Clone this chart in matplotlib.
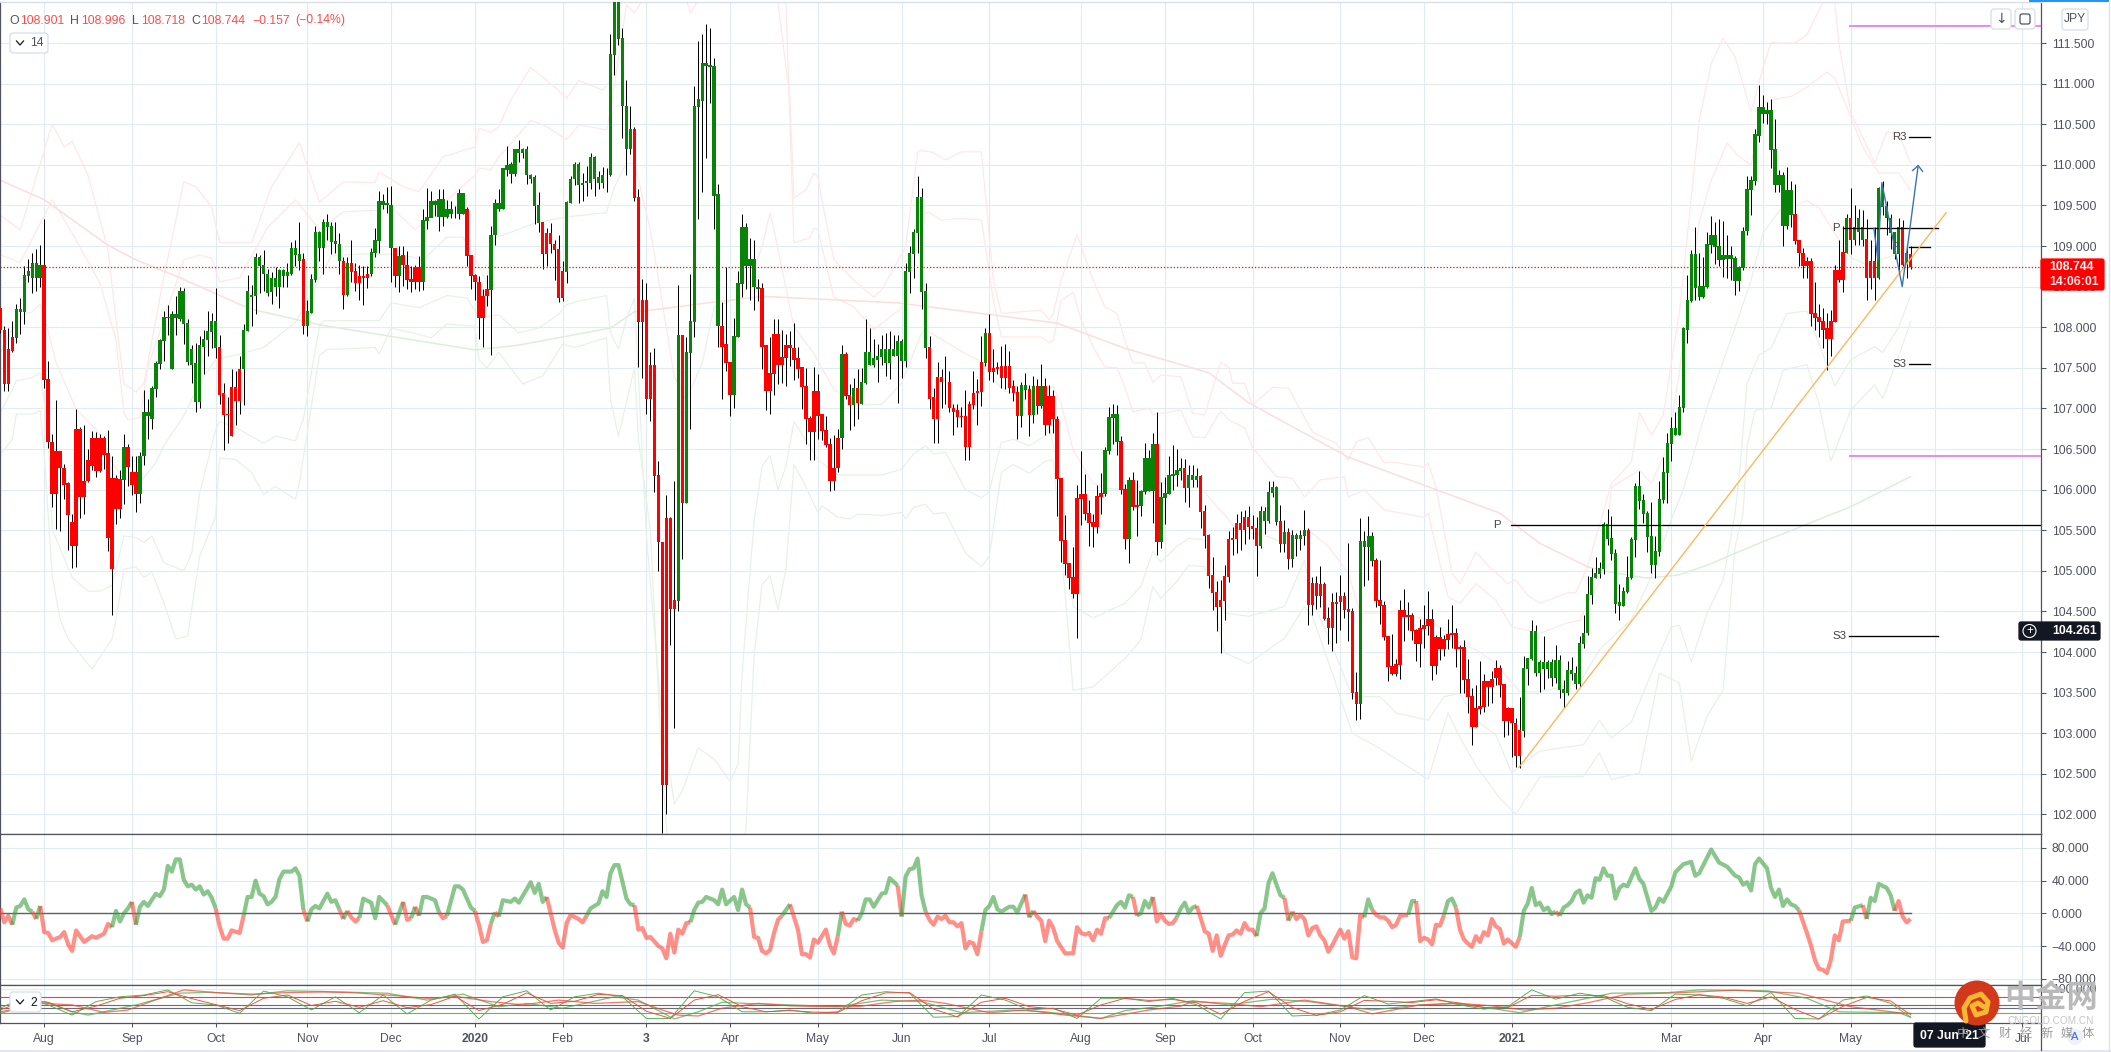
import matplotlib
matplotlib.use("Agg")
import matplotlib.pyplot as plt
from matplotlib.patches import Circle, FancyBboxPatch, Rectangle

plt.rcParams['font.family'] = ['Liberation Sans', 'DejaVu Sans']

# daily candles, index 0 = Jul 2019. bar colour comes from an indicator, so top/bottom are kept apart from colour
body_top = [
108.24,107.96,107.73,107.88,108.23,108.23,108.64,108.69,108.79,108.79,
108.77,108.77,107.36,106.59,106.47,106.47,106.27,106.08,105.6,106.75,
106.75,106.11,106.37,106.64,106.64,106.63,106.63,106.45,106.14,106.14,
106.13,106.52,106.52,106.22,106.22,106.42,106.95,106.95,107.25,107.56,
107.84,108.12,108.12,108.16,108.16,108.45,108.45,108.05,107.73,107.56,
107.78,107.85,107.95,108.08,108.08,107.76,107.19,106.93,107.26,107.26,
107.49,107.96,108.44,108.4,108.87,108.87,108.77,108.66,108.61,108.61,
108.7,108.7,108.68,108.97,108.97,108.9,108.84,108.2,108.59,109.17,
109.17,109.29,109.29,109.25,109.06,109.03,108.82,108.79,108.79,108.69,
108.63,108.63,108.66,108.93,109.07,109.55,109.55,109.53,109.51,108.98,
108.88,108.89,108.77,108.59,108.74,108.74,109.32,109.36,109.56,109.56,
109.58,109.58,109.45,109.45,109.4,109.65,109.65,109.46,108.89,108.64,
108.56,108.38,108.47,109.14,109.53,109.53,109.96,110.0,110.01,110.19,
110.19,110.19,110.19,109.88,109.85,109.5,109.29,109.16,109.16,109.03,
108.96,108.69,109.54,109.83,110.01,110.01,109.78,109.8,110.1,110.1,
109.85,109.88,109.88,111.36,112.2,112.2,111.56,110.73,110.44,110.44,
109.6,108.34,108.34,107.54,107.54,106.18,105.36,105.65,105.65,104.64,
107.9,107.9,107.69,108.08,110.72,110.81,111.25,111.25,111.23,111.22,
109.64,108.02,107.79,107.57,107.89,108.54,109.23,109.23,108.84,108.84,
108.5,108.48,107.78,107.44,107.92,107.92,107.63,107.78,107.78,107.75,
107.62,107.51,107.27,106.88,107.21,107.21,106.93,106.73,106.56,106.27,
106.64,107.67,107.67,107.16,107.25,107.25,107.32,107.7,107.7,107.62,
107.64,107.73,107.73,107.73,107.73,107.83,107.83,108.69,108.91,109.17,
109.6,109.6,108.44,107.76,107.14,107.39,107.39,107.33,107.33,107.01,
106.98,106.91,106.91,107.05,107.19,107.22,107.57,107.93,107.93,107.5,
107.51,107.52,107.52,107.52,107.27,107.2,107.29,107.29,107.24,107.28,
107.28,107.28,107.28,107.15,107.15,106.87,106.14,105.38,105.1,104.93,
105.9,105.95,105.95,105.71,105.6,105.92,105.96,106.49,106.9,106.93,
106.93,106.6,106.01,106.12,106.12,105.81,105.98,106.39,106.39,106.56,
106.56,105.91,105.96,106.18,106.19,106.24,106.27,106.27,106.18,106.18,
106.17,106.17,105.74,105.44,104.95,104.74,104.64,104.94,105.39,105.41,
105.59,105.59,105.66,105.66,105.55,105.53,105.74,105.74,105.97,106.03,
106.03,105.61,105.48,105.48,105.44,105.44,105.44,105.5,105.5,104.85,
104.85,104.84,104.84,104.42,104.61,104.62,104.69,104.69,104.53,104.51,
103.51,105.37,105.37,105.43,105.43,105.13,104.64,104.58,104.2,103.83,
103.85,104.52,104.52,104.46,104.46,104.27,104.3,104.33,104.41,104.41,
104.19,104.19,104.16,104.22,104.23,104.23,104.06,104.06,103.67,103.46,
103.31,103.34,103.64,103.64,103.67,103.8,103.8,103.61,103.31,103.31,
103.13,103.04,103.8,103.93,104.26,104.26,103.88,103.88,103.88,103.88,
103.9,103.9,103.55,103.78,103.78,103.74,104.11,104.24,104.72,104.93,
104.97,105.04,105.58,105.58,105.41,105.22,104.61,104.75,104.93,105.39,
106.05,106.05,105.87,105.71,105.43,105.25,105.89,106.22,106.58,106.76,
106.76,107.02,107.99,108.33,108.9,108.9,108.51,108.51,109.02,109.14,
109.14,109.0,108.89,108.89,108.89,108.85,108.74,109.18,109.7,109.81,
110.38,110.71,110.71,110.68,110.68,110.19,109.87,109.87,109.69,109.69,
109.39,109.07,108.92,108.81,108.81,108.17,108.12,108.08,107.99,108.08,
108.71,108.71,108.93,109.35,109.35,109.23,109.34,109.24,109.09,108.82,
108.82,109.72,109.72,109.49,109.35,109.17,109.23,109.23,108.91,108.901,
]
body_bot = [
107.97,107.3,107.3,107.71,107.87,108.19,108.19,108.63,108.61,108.61,
108.61,107.35,106.59,105.95,105.95,106.27,106.06,105.69,105.31,105.31,
105.91,105.91,106.11,106.29,106.23,106.23,106.43,105.4,105.02,105.76,
105.76,106.12,106.28,106.06,105.95,105.95,106.41,106.91,106.87,107.24,
107.55,107.83,108.11,107.49,108.11,108.1,108.04,107.57,107.54,107.08,
107.08,107.76,107.84,107.94,107.75,107.17,106.92,106.92,106.66,107.09,
107.09,107.48,107.95,108.37,108.39,108.76,108.65,108.42,108.43,108.49,
108.49,108.63,108.63,108.66,108.89,108.82,108.02,108.02,108.18,108.58,
108.98,108.98,109.24,109.05,109.02,108.81,108.4,108.4,108.68,108.54,
108.54,108.61,108.61,108.65,108.92,109.06,109.51,109.5,108.98,108.63,
108.63,108.77,108.58,108.56,108.56,108.56,108.56,109.31,109.35,109.51,
109.36,109.36,109.36,109.39,109.39,109.39,109.4,108.88,108.63,108.56,
108.11,108.11,108.38,108.46,109.13,109.46,109.46,109.94,109.89,109.89,
110.15,110.15,109.87,109.83,109.49,109.28,108.9,108.9,109.02,108.95,
108.36,108.36,108.68,109.53,109.82,109.75,109.75,109.77,109.78,109.83,
109.78,109.78,109.87,109.87,111.35,111.55,110.72,110.2,110.2,109.59,
108.06,108.06,107.11,107.11,106.17,105.35,102.36,102.36,104.53,104.53,
104.63,105.84,105.84,107.68,108.07,110.71,110.79,111.22,111.21,109.62,
108.01,107.76,107.56,107.17,107.17,107.88,108.53,108.76,108.76,108.49,
108.47,107.76,107.21,107.21,107.43,107.54,107.54,107.62,107.74,107.6,
107.49,107.26,106.87,106.71,106.71,106.91,106.72,106.55,106.11,106.11,
106.27,106.63,107.15,107.04,107.04,107.07,107.06,107.31,107.54,107.54,
107.6,107.63,107.56,107.56,107.64,107.64,107.59,107.59,108.68,108.9,
109.16,108.43,107.75,107.12,106.87,106.87,107.32,107.32,107.0,106.96,
106.89,106.89,106.52,106.52,107.04,107.19,107.2,107.56,107.45,107.45,
107.49,107.38,107.38,107.25,107.19,106.91,106.91,107.23,106.92,106.92,
107.03,107.03,106.8,106.8,106.87,106.13,105.37,105.09,104.91,104.72,
104.72,105.89,105.7,105.59,105.54,105.54,105.91,105.95,106.48,106.88,
106.59,106.0,105.39,105.39,105.79,105.79,105.8,105.97,105.98,105.98,
105.36,105.36,105.9,105.95,106.17,106.18,106.23,106.02,106.02,106.12,
106.12,105.73,105.43,104.94,104.73,104.56,104.56,104.63,104.93,105.38,
105.39,105.5,105.5,105.54,105.52,105.31,105.31,105.61,105.61,105.96,
105.6,105.33,105.33,105.15,105.15,105.39,105.39,105.43,104.58,104.58,
104.69,104.69,104.41,104.3,104.3,104.59,104.61,104.52,104.49,103.5,
103.36,103.36,105.29,105.29,105.12,104.63,104.57,104.19,103.82,103.73,
103.73,103.84,104.43,104.43,104.26,104.1,104.1,104.28,104.32,103.83,
103.83,104.04,104.04,104.15,104.21,104.04,104.04,103.66,103.45,103.08,
103.08,103.3,103.32,103.57,103.57,103.68,103.6,103.15,103.15,103.12,
102.72,102.72,103.03,103.79,103.91,103.74,103.74,103.79,103.79,103.68,
103.68,103.53,103.49,103.49,103.73,103.61,103.61,104.1,104.23,104.7,
104.91,104.96,105.02,105.39,105.21,104.59,104.57,104.57,104.74,104.91,
105.38,105.86,105.7,105.42,105.07,105.07,105.23,105.87,106.21,106.56,
106.67,106.67,107.01,107.97,108.32,108.48,108.37,108.37,108.5,109.01,
108.99,108.83,108.83,108.84,108.84,108.57,108.57,108.73,109.18,109.69,
109.8,110.36,110.62,110.62,110.18,109.75,109.75,109.25,109.25,109.38,
109.06,108.91,108.76,108.76,108.16,108.11,108.07,107.97,107.86,107.86,
108.07,108.58,108.58,108.92,109.07,109.07,109.17,109.08,108.61,108.61,
108.61,108.61,109.48,109.34,109.16,108.9,108.9,108.77,108.77,108.744,
]
highs = [
108.24,108.02,107.99,108.08,108.29,108.36,108.76,108.84,108.92,108.96,
109.01,109.33,107.58,106.69,107.1,106.48,106.31,106.09,105.7,106.99,
106.77,106.79,106.5,106.72,106.71,106.68,106.66,106.74,106.42,106.18,
106.24,106.69,106.56,106.41,106.41,106.46,107.23,107.12,107.28,107.59,
107.86,108.2,108.27,108.2,108.38,108.49,108.48,108.1,107.78,107.81,
107.89,107.97,108.2,108.18,108.48,107.9,107.31,107.14,107.48,107.46,
107.64,108.04,108.64,108.52,108.91,108.89,108.95,108.72,108.68,108.74,
108.72,108.72,108.79,109.05,109.08,109.3,108.91,108.33,108.66,109.25,
109.19,109.33,109.39,109.3,109.3,109.16,108.86,108.87,109.08,108.79,
108.77,108.75,108.75,108.98,109.22,109.68,109.64,109.73,109.74,108.98,
109.0,109.0,108.94,108.75,108.77,108.88,109.45,109.72,109.68,109.57,
109.7,109.7,109.57,109.55,109.49,109.7,109.65,109.48,108.89,108.65,
108.63,108.47,108.64,109.25,109.58,109.7,109.96,110.23,110.03,110.19,
110.3,110.21,110.23,109.89,109.87,109.66,109.29,109.22,109.28,109.08,
109.14,108.81,109.56,109.86,110.03,110.03,109.9,109.98,110.14,110.11,
109.92,109.97,109.96,111.61,112.2,112.2,111.69,111.05,110.72,110.47,
109.7,108.59,108.55,107.7,107.75,106.35,105.36,105.93,105.66,106.11,
108.52,107.9,107.88,108.66,110.97,111.52,111.61,111.73,111.69,111.31,
109.76,108.31,108.74,107.57,108.11,108.69,109.39,109.28,109.1,109.07,
108.59,108.54,107.78,107.88,108.1,108.1,107.96,107.92,107.95,108.05,
107.76,107.51,107.5,106.91,107.51,107.42,106.93,106.91,106.63,106.67,
106.75,107.78,107.7,107.3,107.38,107.48,107.5,108.1,107.99,107.86,
107.79,107.91,107.93,107.95,107.9,107.9,107.86,108.79,109.0,109.21,
109.86,109.71,108.55,107.89,107.25,107.57,107.48,107.65,107.46,107.06,
107.06,107.02,107.23,107.09,107.46,107.36,107.89,107.99,108.16,107.73,
107.57,107.77,107.79,107.71,107.35,107.28,107.33,107.44,107.29,107.4,
107.36,107.55,107.38,107.29,107.23,106.91,106.14,105.69,105.1,105.29,
106.06,106.48,106.19,105.87,105.7,106.06,106.21,106.53,107.02,107.06,
107.04,106.66,106.07,106.16,106.22,106.12,106.0,106.58,106.49,106.7,
106.95,106.1,106.16,106.41,106.55,106.5,106.39,106.38,106.3,106.3,
106.27,106.18,105.81,105.45,105.17,104.88,104.89,105.07,105.49,105.54,
105.7,105.74,105.75,105.8,105.69,105.66,105.8,105.79,106.11,106.11,
106.05,105.81,105.63,105.53,105.5,105.47,105.5,105.75,105.53,104.93,
104.94,105.06,104.86,104.56,104.73,104.74,104.95,104.74,105.34,104.54,
103.76,105.65,105.49,105.67,105.48,105.16,105.13,104.63,104.2,104.22,
103.92,104.64,104.77,104.61,104.48,104.28,104.41,104.58,104.75,104.53,
104.21,104.31,104.21,104.41,104.58,104.29,104.09,104.15,103.92,103.56,
103.59,103.89,103.73,103.64,103.77,103.9,103.84,103.61,103.32,103.31,
103.19,103.45,103.95,103.93,104.4,104.33,103.9,104.2,103.9,103.91,
104.09,103.96,103.66,103.89,103.94,103.83,104.2,104.45,104.94,105.04,
105.17,105.11,105.6,105.76,105.67,105.27,104.84,104.8,105.18,105.42,
106.08,106.23,105.94,105.74,105.85,105.43,106.11,106.4,106.7,106.9,
106.96,107.16,108.0,108.64,108.95,109.23,108.92,108.87,109.17,109.37,
109.3,109.33,109.31,109.14,109.0,108.88,108.75,109.23,109.86,109.86,
110.44,110.98,110.86,110.77,110.81,110.56,109.94,109.91,109.97,109.8,
109.76,109.07,108.98,108.86,108.85,108.56,108.29,108.24,108.18,108.21,
108.77,109.08,109.25,109.39,109.71,109.5,109.45,109.44,109.33,109.07,
109.23,109.73,109.8,109.55,109.39,109.17,109.34,109.32,109.02,108.996,
]
lows = [
107.93,107.21,107.21,107.7,107.81,107.92,108.04,108.56,108.42,108.45,
108.49,107.25,106.51,105.78,105.52,105.49,105.89,105.26,105.04,105.05,
105.65,105.7,106.1,106.24,106.16,106.22,106.25,105.25,104.45,105.58,
105.65,105.82,106.05,105.93,105.73,105.83,106.3,106.62,106.75,107.14,
107.49,107.58,107.9,107.49,107.91,108.08,107.79,107.54,107.31,106.96,
107.0,107.42,107.65,107.75,107.62,107.05,106.49,106.58,106.66,106.8,
106.93,107.04,107.95,108.02,108.16,108.42,108.45,108.38,108.28,108.39,
108.24,108.49,108.49,108.64,108.75,108.71,107.92,107.89,108.18,108.56,
108.81,108.65,109.08,108.9,108.92,108.66,108.23,108.38,108.56,108.45,
108.34,108.27,108.48,108.63,108.87,108.92,109.45,109.41,108.56,108.49,
108.43,108.51,108.47,108.43,108.47,108.45,108.46,109.21,109.37,109.37,
109.18,109.25,109.35,109.34,109.35,109.33,109.39,108.76,108.47,108.34,
107.85,107.76,108.26,107.66,109.01,109.43,109.46,109.86,109.78,109.86,
110.04,110.08,109.76,109.78,109.27,109.17,108.72,108.75,108.91,108.58,
108.31,108.32,108.55,109.53,109.75,109.53,109.56,109.62,109.7,109.62,
109.7,109.72,109.66,109.86,111.11,111.47,110.33,109.88,110.13,109.56,
107.51,107.37,106.93,106.84,105.97,105.0,101.77,102.0,104.09,103.07,
104.5,105.14,105.84,106.75,107.88,109.33,109.66,110.08,110.76,109.21,
107.76,107.12,107.46,106.91,107.01,107.88,108.37,108.47,108.34,108.21,
108.32,107.49,106.98,106.93,107.17,107.3,107.31,107.28,107.52,107.35,
107.37,106.99,106.56,106.37,106.37,106.62,106.61,106.52,105.98,105.99,
106.22,106.5,107.12,106.74,106.78,106.87,107.05,107.3,107.54,107.51,
107.33,107.54,107.4,107.36,107.64,107.07,107.37,107.51,108.42,108.61,
108.91,108.23,107.62,106.99,106.57,106.58,107.0,107.06,106.95,106.67,
106.77,106.77,106.37,106.37,106.99,106.79,107.03,107.52,107.35,107.33,
107.43,107.25,107.24,107.19,107.09,106.62,106.77,107.11,106.66,106.82,
106.93,107.01,106.67,106.7,106.7,105.68,105.11,104.95,104.77,104.67,
104.17,105.57,105.63,105.31,105.29,105.47,105.7,105.92,106.44,106.56,
106.43,105.94,105.27,105.1,105.75,105.43,105.68,105.94,105.98,105.59,
105.2,105.28,105.58,105.95,106.0,106.05,106.12,105.85,105.78,106.03,
106.03,105.53,105.28,104.79,104.52,104.26,103.99,104.4,104.86,105.2,
105.22,105.26,105.33,105.39,105.39,104.94,105.28,105.45,105.59,105.91,
105.57,105.23,105.23,105.02,105.05,105.18,105.26,105.32,104.33,104.46,
104.53,104.56,104.4,104.1,104.01,104.11,104.27,104.42,104.14,103.42,
103.16,103.18,104.81,104.89,105.06,104.56,104.35,104.15,103.64,103.72,
103.71,103.67,104.14,104.27,104.15,103.89,103.82,104.05,104.21,103.66,
103.73,103.9,103.95,104.04,104.05,103.82,103.5,103.49,103.25,102.86,
103.08,103.24,103.26,103.33,103.37,103.6,103.45,102.95,102.98,102.71,
102.59,102.57,102.95,103.6,103.9,103.71,103.51,103.55,103.68,103.58,
103.62,103.43,103.31,103.47,103.66,103.55,103.57,104.05,104.21,104.59,
104.91,104.91,104.96,105.32,105.13,104.48,104.4,104.57,104.73,104.9,
105.17,105.76,105.59,105.23,104.97,104.91,105.18,105.83,105.83,106.35,
106.67,106.67,106.96,107.81,108.31,108.34,108.34,108.36,108.48,108.91,
108.78,108.75,108.62,108.6,108.58,108.4,108.45,108.7,109.13,109.38,
109.75,110.28,110.51,110.5,109.96,109.66,109.66,109.0,109.21,109.23,
109.02,108.76,108.61,108.61,108.01,107.97,107.88,107.74,107.47,107.64,
108.07,108.56,108.43,108.92,108.9,109.01,109.01,109.0,108.33,108.47,
108.34,108.59,109.38,109.13,108.96,108.84,108.71,108.75,108.61,108.718,
]
colour_runs = [("r",4),("g",7),("r",20),("g",1),("r",3),("g",20),("r",6),("g",15),("r",1),("g",9),
("r",1),("g",1),("r",5),("g",6),("r",1),("g",1),("r",5),("g",11),("r",6),("g",13),("r",6),("g",17),
("r",11),("g",1),("r",1),("g",9),("r",3),("g",7),("r",20),("g",1),("r",2),("g",1),("r",1),("g",17),
("r",14),("g",1),("r",8),("g",2),("r",1),("g",1),("r",1),("g",1),("r",15),("g",4),("r",2),("g",1),
("r",2),("g",4),("r",1),("g",6),("r",1),("g",3),("r",15),("g",5),("r",1),("g",1),("r",1),("g",4),
("r",13),("g",4),("r",37),("g",68),("r",13),("g",1),("r",1),("g",3),("r",3),("g",6),("r",1),("g",1),("r",1)]

# bands as (bar, price) readings
band_outer = [(0,109.38),(5,109.2),(13,110.5),(16,110.22),(18,110.29),(22,109.87),(27,108.95),(29,108.09),(31,107.31),(34,107.2),(36,107.31),(41,108.62),(44,109.32),(46,109.79),(49,109.73),(53,109.48),(55,109.04),(63,109.04),(68,109.73),(75,110.27),(80,109.54),(86,109.79),(94,109.78),(95,109.91),(101,109.73),(105,109.67),(111,110.1),(119,110.22),(120,110.45),(123,110.4),(125,110.47),(128,110.8),(133,111.2),(139,110.96),(142,110.82),(145,111.04),(151,110.92),(153,111.04),(156,112.6),(165,114),(190,114),(195,112.0),(198,110.8),(199,109.59),(202,109.69),(204,109.9),(205,109.85),(206,109.57),(209,108.83),(214,108.58),(219,108.37),(221,108.46),(227,108.99),(230,110.15),(231,110.18),(234,110.15),(237,110.06),(241,110.16),(246,110.16),(249,108.58),(251,108.17),(261,108.21),(263,108.09),(264,108.17),(266,108.58),(270,109.14),(274,108.58),(277,108.25),(280,108.17),(282,107.84),(284,107.56),(287,107.56),(289,107.32),(291,107.41),(296,107.39),(299,106.94),(302,106.92),(306,107.57),(308,107.51),(309,107.31),(312,107.31),(314,107.04),(319,107.26),(323,107.25),(329,106.71),(335,106.57),(338,106.36),(340,106.59),(343,106.64),(347,106.33),(349,106.34),(357,106.28),(358,106.33),(360,106.03),(364,104.97),(366,104.84),(370,105.23),(373,105.07),(378,104.84),(380,104.89),(383,104.7),(386,104.6),(393,104.73),(395,104.73),(398,105.05),(403,105.91),(404,106.08),(409,106.34),(411,106.95),(414,106.67),(417,106.92),(419,107.56),(421,108.17),(426,110.55),(429,111.25),(432,111.56),(435,111.33),(439,110.65),(442,111.2),(444,111.51),(446,111.5),(450,111.5),(453,111.6),(457,112.0),(460,112.0),(461,111.5),(464,110.64),(467,110.34),(470,110.02),(473,110.4),(476,110.39),(479,110.02)]
band_inner = [(0,108.89),(5,108.8),(13,109.57),(18,109.16),(25,108.54),(29,107.84),(31,106.94),(32,106.86),(35,106.89),(37,107.51),(41,108.09),(46,108.83),(50,108.89),(53,108.85),(55,108.56),(60,108.61),(67,109.23),(74,109.57),(80,109.2),(86,109.42),(94,109.44),(98,109.48),(104,109.2),(110,109.48),(119,109.87),(120,109.96),(123,109.94),(125,110.1),(127,110.2),(133,110.55),(137,110.47),(142,110.31),(145,110.49),(150,110.45),(152,110.43),(153,110.67),(157,111.97),(159,111.87),(161,112.03),(165,113),(171,112.2),(173,111.87),(175,112.03),(185,113),(197,112.0),(199,109.04),(203,109.1),(204,109.22),(205,109.2),(209,108.37),(214,108.25),(219,107.97),(226,108.24),(230,109.42),(233,109.41),(236,109.32),(241,109.34),(246,109.32),(249,108.33),(251,107.88),(261,107.88),(263,107.81),(264,107.84),(266,108.33),(269,108.43),(271,108.09),(274,107.76),(277,107.51),(280,107.5),(282,107.26),(284,106.96),(288,107.0),(289,106.92),(296,106.98),(299,106.65),(302,106.64),(306,106.97),(308,106.86),(312,106.76),(314,106.52),(320,106.16),(324,106.14),(327,105.91),(331,106.12),(337,106.16),(338,105.91),(342,106.0),(347,105.75),(357,105.66),(358,105.71),(360,105.29),(363,104.68),(366,104.6),(370,104.84),(375,104.64),(379,104.31),(386,104.23),(393,104.36),(396,104.39),(401,104.89),(403,105.54),(404,106.03),(411,106.24),(414,106.08),(418,106.52),(421,107.44),(426,109.3),(429,109.81),(433,110.27),(436,110.1),(439,110.0),(442,110.76),(446,110.82),(449,110.84),(453,110.96),(458,111.14),(460,111.07),(464,110.59),(467,110.22),(471,109.9),(476,109.9),(479,109.69)]
band_mid = [(0,107.69,"g"),(3,107.97,"g"),(6,108.16,"g"),(8,108.19,"g"),(10,108.28,"r"),(11,108.14,"r"),(14,107.56,"r"),(19,106.99,"r"),(24,106.74,"r"),(28,106.33,"r"),(31,106.13,"g"),(35,106.09,"g"),(39,106.33,"g"),(41,106.54,"g"),(46,106.91,"g"),(50,107.32,"g"),(54,107.6,"g"),(60,107.67,"g"),(66,107.75,"g"),(74,108.06,"g"),(80,108.59,"g"),(83,108.88,"g"),(90,108.9,"g"),(100,108.9,"g"),(106,108.83,"g"),(112,109.11,"g"),(116,109.11,"r"),(119,108.85,"r"),(122,108.55,"g"),(123,109.08,"g"),(134,109.28,"g"),(142,109.36,"g"),(152,109.41,"g"),(154,109.73,"g"),(157,110.02,"r"),(159,110.02,"r"),(163,109.2,"r"),(169,107.39,"g"),(172,107.1,"g"),(176,107.56,"g"),(179,108.25,"g"),(186,108.37,"g"),(188,108.58,"r"),(191,108.99,"r"),(193,109.41,"r"),(194,109.2,"r"),(199,108.0,"r"),(204,107.68,"r"),(209,107.23,"r"),(215,107.04,"g"),(221,107.05,"g"),(226,107.31,"g"),(231,107.93,"g"),(232,107.97,"r"),(241,107.7,"r"),(246,107.58,"r"),(249,107.35,"g"),(252,107.21,"g"),(255,107.19,"g"),(262,107.23,"g"),(264,107.27,"r"),(266,107.06,"r"),(269,106.49,"r"),(274,106.08,"r"),(277,106.02,"g"),(281,106.0,"g"),(285,106.02,"g"),(288,106.12,"g"),(295,106.04,"g"),(301,106.02,"r"),(308,105.63,"r"),(310,105.5,"r"),(318,105.42,"g"),(324,105.3,"g"),(328,105.5,"r"),(333,105.3,"r"),(338,104.97,"r"),(341,104.48,"r"),(349,104.48,"r"),(358,104.4,"r"),(362,104.27,"r"),(366,104.11,"r"),(370,104.03,"r"),(375,103.86,"r"),(381,103.51,"g"),(386,103.51,"g"),(396,103.62,"g"),(401,104.03,"g"),(409,104.4,"g"),(414,104.93,"g"),(419,105.63,"g"),(422,106.0,"g"),(428,107.02,"g"),(435,108.0,"g"),(439,108.58,"g"),(442,109.16,"g"),(447,109.49,"r"),(450,109.5,"r"),(453,109.56,"r"),(456,109.47,"r"),(461,109.08,"r"),(464,108.86,"g"),(468,108.77,"g"),(475,108.89,"g"),(479,109.0,"g")]
band_lower1 = [(0,106.95),(3,107.23),(4,107.34),(8,107.38),(10,107.44),(12,106.7),(13,105.51),(18,104.92),(22,104.75),(25,104.75),(28,104.82),(30,105.22),(31,105.43),(34,105.41),(36,105.35),(38,105.43),(41,105.1),(46,105.0),(48,105.22),(50,105.96),(54,106.74),(55,106.84),(60,106.74),(66,106.57),(69,106.66),(74,106.6),(76,106.87),(80,108.01),(81,108.08),(95,108.08),(98,108.3),(105,108.24),(112,108.39),(117,108.36),(120,108.12),(125,108.15),(130,107.93),(135,107.99),(140,108.16),(142,108.28),(145,108.32),(152,108.39),(153,107.93),(155,107.73),(157,108.1),(159,108.36),(161,106.41),(162,105.43),(166,103.13),(169,102.13),(171,102.29),(175,102.82),(179,102.68),(183,102.4),(185,102.62),(186,103.74),(189,105.61),(191,106.29),(193,106.42),(195,106.0),(197,106.29),(199,106.84),(201,106.68),(205,106.37),(210,106.18),(221,106.18),(226,106.25),(229,106.44),(232,106.54),(234,106.44),(237,106.46),(242,106.0),(246,105.9),(248,105.98),(251,106.58),(254,106.62),(258,106.54),(262,106.66),(263,106.78),(266,106.12),(269,104.56),(274,104.42),(282,104.6),(286,104.81),(289,105.24),(291,105.11),(295,105.3),(298,105.4),(302,105.38),(307,104.48),(313,104.44),(322,104.56),(327,105.13),(329,104.64),(334,104.07),(339,103.45),(346,103.45),(350,103.25),(358,103.16),(362,103.45),(366,103.49),(370,103.16),(375,102.98),(379,102.51),(386,102.78),(397,102.86),(401,103.16),(404,102.94),(409,103.14),(414,103.74),(419,104.31),(421,104.33),(424,103.88),(428,104.48),(432,104.89),(435,105.71),(436,106.16),(438,107.31),(441,107.66),(444,107.74),(448,108.17),(453,108.2),(456,107.8),(460,107.28),(464,107.6),(470,107.76),(472,107.69),(476,108.0),(479,108.39)]
band_lower2 = [(0,106.43),(3,106.62),(4,106.93),(8,106.93),(10,106.97),(11,106.45),(13,104.94),(15,104.4),(17,104.16),(23,103.79),(28,104.16),(29,104.4),(31,105.02),(34,105.05),(36,104.92),(38,104.98),(41,104.61),(44,104.16),(47,104.2),(50,105.18),(54,105.67),(55,106.39),(59,106.37),(60,106.33),(63,106.21),(66,105.94),(69,106.04),(74,105.88),(75,106.09),(80,107.65),(82,107.73),(85,107.73),(94,107.75),(95,107.67),(98,107.99),(105,107.91),(108,107.87),(112,108.04),(119,108.01),(120,107.6),(122,107.5),(125,107.69),(131,107.3),(136,107.4),(141,107.79),(144,107.75),(152,107.87),(153,107.11),(155,106.66),(159,107.5),(160,106.62),(163,105.5),(166,102.5),(170,100),(183,100),(187,101.86),(189,103.95),(191,104.83),(193,104.94),(195,104.52),(197,105.02),(199,106.31),(201,106.13),(205,105.72),(206,105.8),(210,105.66),(213,105.64),(215,105.7),(221,105.68),(226,105.72),(227,105.64),(229,105.78),(232,105.82),(234,105.7),(237,105.72),(242,105.22),(246,105.05),(248,105.18),(251,106.21),(254,106.31),(258,106.2),(262,106.35),(264,106.37),(266,105.3),(269,103.53),(274,103.57),(282,103.92),(286,104.15),(289,104.81),(291,104.66),(295,104.87),(298,105.07),(302,105.05),(307,103.99),(313,103.86),(322,104.17),(327,104.56),(329,104.44),(334,103.74),(339,103.0),(345,102.84),(358,102.43),(363,103.25),(366,102.95),(370,102.6),(376,102.2),(380,102.0),(386,102.46),(397,102.47),(401,102.76),(404,102.43),(411,102.51),(416,103.74),(421,103.62),(424,102.66),(428,103.21),(432,103.53),(435,105.3),(437,105.71),(438,106.53),(440,106.98),(444,107.0),(447,107.47),(453,107.54),(456,107.06),(459,106.35),(464,106.98),(470,107.29),(472,107.12),(476,107.64),(479,108.07)]
long_ma = [(0,109.81,"r"),(11,109.57,"r"),(27,109.01,"r"),(34,108.83,"r"),(45,108.61,"r"),(61,108.26,"g"),(64,108.21,"g"),(80,108.03,"g"),(119,107.72,"g"),(130,107.78,"g"),(153,107.99,"g"),(159,108.19,"r"),(163,108.21,"r"),(179,108.31,"r"),(191,108.38,"r"),(225,108.3,"r"),(241,108.2,"r"),(265,108.05,"r"),(282,107.74,"r"),(303,107.44,"r"),(313,107.07,"r"),(338,106.4,"r"),(360,106.0,"r"),(376,105.71,"r"),(386,105.34,"r"),(398,105.05,"g"),(403,104.99,"g"),(413,104.91,"g"),(421,104.95,"g"),(428,105.07,"g"),(441,105.34,"g"),(464,105.79,"g"),(479,106.16,"g")]

# drawn levels and tools
level_names = ["R3", "P", "P", "S3", "P", "S3"]
level_prices = [110.34, 109.22, 108.99, 107.55, 105.57, 104.2]
level_start = [478.6, 462, 478.6, 478.6, 378.8, 463.6]
level_end = [483.9, 485.9, 483.9, 483.9, 511.7, 485.9]
level_gap = [0.6, 0.9, 2.5, 0.6, 2.5, 0.8]
magenta_prices = [111.71, 106.42]
magenta_start = 463.8
trend_k = [380.8, 487.9]
trend_p = [102.58, 109.41]
path_k = [469.8, 470.8, 471.8, 476.9, 480.9]
path_p = [109.22, 108.83, 109.78, 108.5, 109.99]
head_k = [479.5, 480.9, 482.0]
head_p = [109.93, 109.99, 109.92]

last_close = 108.744

# cci-style oscillator: bar, value, colour of the run that starts there
osc = [(0,6,"r"),(1,-11,"r"),(2,-3,"r"),(3,-14,"g"),(4,7,"g"),(5,9,"g"),(6,17,"g"),(7,5,"g"),(8,2,"r"),(9,-7,"g"),(10,9,"r"),(11,-23,"r"),(12,-24,"r"),(13,-33,"r"),(15,-29,"r"),(16,-23,"r"),(17,-38,"r"),(18,-46,"r"),(19,-21,"r"),(21,-35,"r"),(23,-28,"r"),(24,-30,"r"),(26,-25,"r"),(27,-13,"r"),(28,-17,"g"),(29,3,"g"),(30,-10,"g"),(31,0,"g"),(32,6,"g"),(33,14,"r"),(34,-14,"g"),(35,8,"g"),(36,14,"g"),(37,9,"g"),(39,24,"g"),(40,21,"g"),(41,29,"g"),(42,58,"g"),(43,51,"g"),(44,66,"g"),(45,66,"g"),(46,41,"g"),(47,33,"g"),(48,35,"g"),(49,29,"g"),(50,33,"g"),(51,23,"g"),(52,27,"g"),(53,19,"g"),(54,6,"r"),(55,-16,"r"),(56,-31,"r"),(57,-31,"r"),(58,-21,"r"),(60,-24,"r"),(61,-3,"g"),(62,20,"g"),(63,20,"g"),(64,40,"g"),(65,24,"g"),(66,21,"g"),(67,11,"g"),(68,14,"g"),(69,20,"g"),(70,42,"g"),(71,51,"g"),(73,51,"g"),(74,55,"g"),(75,46,"g"),(76,4,"r"),(77,-10,"g"),(78,5,"g"),(79,9,"g"),(80,6,"g"),(82,24,"g"),(83,14,"g"),(84,16,"g"),(85,5,"r"),(86,-7,"g"),(87,3,"r"),(88,-5,"r"),(89,-10,"r"),(90,-6,"g"),(91,18,"g"),(93,13,"g"),(94,-6,"g"),(95,20,"g"),(97,10,"r"),(99,-14,"g"),(101,14,"r"),(102,-8,"r"),(103,-6,"g"),(104,8,"r"),(105,-3,"g"),(106,20,"g"),(107,20,"g"),(109,16,"g"),(110,1,"r"),(111,-6,"r"),(112,-3,"g"),(114,33,"g"),(115,33,"g"),(116,29,"g"),(118,7,"g"),(119,3,"r"),(120,-14,"r"),(121,-35,"r"),(122,-33,"r"),(123,-13,"g"),(124,1,"r"),(125,-4,"g"),(126,16,"g"),(128,14,"g"),(129,18,"g"),(130,13,"g"),(133,38,"g"),(134,25,"g"),(135,36,"g"),(136,14,"g"),(137,20,"r"),(139,-20,"r"),(140,-36,"r"),(141,-42,"r"),(142,-12,"r"),(143,-2,"r"),(145,-7,"r"),(146,-11,"r"),(147,-3,"g"),(148,6,"g"),(150,12,"g"),(151,27,"g"),(152,20,"g"),(153,49,"g"),(154,59,"g"),(155,59,"g"),(157,18,"g"),(158,11,"g"),(159,10,"r"),(160,-20,"r"),(161,-18,"r"),(162,-30,"r"),(163,-29,"r"),(165,-40,"r"),(166,-43,"r"),(167,-55,"r"),(168,-25,"r"),(169,-48,"r"),(170,-20,"r"),(171,-25,"r"),(172,-12,"r"),(173,-11,"g"),(174,4,"g"),(175,13,"g"),
(176,14,"g"),(177,20,"g"),(179,16,"g"),(180,11,"g"),(181,29,"g"),(182,11,"g"),(184,20,"g"),(185,4,"g"),(186,29,"g"),(187,11,"g"),(188,7,"r"),(189,-29,"r"),(190,-30,"r"),(191,-46,"r"),(192,-49,"r"),(193,-45,"r"),(194,-24,"r"),(195,-8,"r"),(196,-3,"g"),(198,11,"r"),(200,-20,"r"),(201,-50,"r"),(202,-50,"r"),(203,-54,"r"),(204,-32,"r"),(205,-36,"r"),(207,-20,"r"),(208,-39,"r"),(209,-49,"r"),(210,-28,"g"),(211,2,"r"),(212,-13,"r"),(213,-15,"r"),(214,-7,"r"),(215,-9,"g"),(216,0,"g"),(217,17,"g"),(218,17,"g"),(219,8,"g"),(221,24,"g"),(222,25,"g"),(223,43,"g"),(225,34,"r"),(226,-4,"g"),(227,45,"g"),(228,54,"g"),(229,55,"g"),(230,67,"g"),(231,22,"g"),(232,2,"r"),(233,-8,"r"),(234,-14,"r"),(235,-4,"r"),(236,-7,"r"),(237,-3,"r"),(238,-11,"r"),(239,-11,"r"),(240,-16,"r"),(241,-12,"r"),(242,-43,"r"),(243,-35,"r"),(244,-37,"r"),(245,-50,"r"),(246,-22,"g"),(247,4,"g"),(248,9,"g"),(249,20,"g"),(250,5,"g"),(251,2,"g"),(253,8,"g"),(254,8,"g"),(255,1,"g"),(257,23,"r"),(258,-5,"g"),(259,3,"r"),(260,-4,"r"),(261,-9,"r"),(262,-34,"r"),(263,-9,"r"),(264,-18,"r"),(265,-34,"r"),(267,-49,"r"),(269,-49,"r"),(270,-17,"r"),(271,-24,"r"),(272,-26,"r"),(273,-24,"r"),(274,-33,"r"),(275,-20,"r"),(276,-25,"r"),(277,-6,"r"),(278,-6,"g"),(280,10,"g"),(281,14,"g"),(282,7,"g"),(283,22,"g"),(284,20,"r"),(285,-3,"g"),(286,0,"g"),(287,15,"g"),(288,7,"g"),(289,20,"r"),(290,-10,"r"),(291,-1,"r"),(292,-9,"r"),(293,-13,"r"),(294,-12,"r"),(295,-5,"g"),
(296,6,"g"),(297,13,"g"),(298,1,"g"),(299,7,"g"),(300,9,"r"),(301,-6,"r"),(302,-22,"r"),(303,-25,"r"),(304,-46,"r"),(305,-27,"r"),(306,-52,"r"),(307,-39,"r"),(308,-27,"r"),(309,-26,"r"),(310,-21,"r"),(311,-25,"r"),(312,-12,"r"),(313,-20,"r"),(314,-20,"r"),(315,-28,"g"),(316,0,"g"),(317,6,"g"),(318,37,"g"),(319,49,"g"),(320,35,"g"),(321,22,"g"),(322,19,"r"),(323,-9,"g"),(324,2,"r"),(325,-7,"r"),(326,-2,"r"),(327,-7,"r"),(328,-27,"r"),(329,-18,"r"),(330,-16,"r"),(331,-27,"r"),(332,-33,"r"),(333,-47,"r"),(334,-39,"r"),(336,-20,"r"),(337,-31,"r"),(338,-22,"r"),(339,-54,"r"),(340,-55,"r"),(341,-2,"r"),(342,-5,"g"),(343,17,"g"),(344,4,"r"),(345,-2,"r"),(346,-5,"r"),(347,-5,"r"),(348,-9,"r"),(349,-17,"r"),(350,-14,"r"),(351,-3,"r"),(353,-2,"g"),(354,15,"g"),(355,15,"r"),(356,-34,"r"),(357,-30,"r"),(358,-32,"r"),(359,-38,"r"),(360,-14,"r"),(361,-15,"r"),(362,-2,"g"),(363,15,"g"),(364,18,"g"),(365,7,"r"),(366,-20,"r"),(367,-32,"r"),(368,-37,"r"),(369,-41,"r"),(370,-28,"r"),(371,-35,"r"),(372,-23,"r"),(373,-27,"r"),(374,-7,"r"),(375,-16,"r"),(376,-19,"r"),(377,-37,"r"),(378,-32,"r"),(380,-41,"r"),(381,-29,"g"),(382,3,"g"),(383,12,"g"),(384,31,"g"),(385,10,"g"),(386,13,"g"),(387,4,"g"),(388,7,"g"),(389,-1,"g"),(390,2,"r"),(391,-3,"g"),(392,7,"g"),(393,10,"g"),(394,15,"g"),(395,25,"g"),(396,28,"g"),(397,13,"g"),(398,22,"g"),(399,19,"g"),(400,43,"g"),(401,41,"g"),
(402,55,"g"),(403,46,"g"),(404,46,"g"),(405,18,"g"),(406,31,"g"),(407,35,"g"),(408,33,"g"),(410,55,"g"),(411,42,"g"),(412,36,"g"),(414,3,"g"),(415,7,"g"),(416,18,"g"),(417,14,"g"),(419,33,"g"),(420,50,"g"),(422,60,"g"),(424,63,"g"),(425,46,"g"),(426,49,"g"),(429,78,"g"),(431,62,"g"),(433,57,"g"),(435,46,"g"),(436,44,"g"),(437,35,"g"),(438,38,"g"),(439,28,"g"),(440,60,"g"),(441,67,"g"),(443,55,"g"),(444,31,"g"),(445,20,"g"),(446,29,"g"),(447,9,"g"),(448,17,"g"),(449,11,"g"),(450,9,"g"),(451,4,"r"),(452,-10,"r"),(453,-24,"r"),(454,-39,"r"),(455,-57,"r"),(456,-68,"r"),(457,-69,"r"),(458,-73,"r"),(459,-57,"r"),(460,-27,"r"),(461,-33,"r"),(462,-10,"r"),(464,-9,"g"),(465,7,"g"),(467,10,"r"),(468,-7,"g"),(469,19,"g"),(470,15,"g"),(471,36,"g"),(473,31,"g"),(474,22,"g"),(475,3,"r"),(476,15,"r"),(477,-4,"r"),(478,-11,"r"),(479,-7,"r")]

# stochastic pane: fast pair read every 6 bars, last value at the final bar
fast_bars = list(range(0, 475, 6)) + [479]
fast_green = [36,74,47,13,58,74,80,97,54,47,
19,93,74,30,74,21,80,17,63,83,
0,74,94,30,74,86,74,2,2,94,
74,24,24,30,19,24,80,91,86,6,
8,80,63,30,36,2,69,69,58,69,
47,0,88,93,10,13,30,78,50,58,
67,47,33,41,97,66,86,74,39,28,
83,80,69,44,88,2,0,63,77,52,
6]
fast_red = [30,62,56,24,43,69,78,91,68,48,
28,69,80,45,59,39,61,38,48,76,
28,49,87,52,59,82,78,26,2,63,
81,41,24,28,23,22,61,87,88,33,
7,56,69,41,34,13,47,69,62,65,
54,16,59,91,38,12,24,62,59,55,
64,53,38,38,79,76,79,78,51,32,
65,81,73,52,74,32,0,42,72,60,
14]
slow_red = [(0,24),(11,52),(18,47),(26,22),(32,30),(40,69),(46,97),(54,88),(63,83),(72,88),(81,90),(88,88),(97,80),(107,69),(115,74),(123,58),(131,47),(140,63),(149,52),(160,58),(166,30),(170,13),(175,10),(181,36),(190,52),(198,44),(206,41),(215,41),(224,58),(231,63),(237,52),(248,21),(257,30),(267,13),(276,2),(288,30),(296,43),(299,58),(308,52),(316,41),(327,63),(338,41),(344,17),(356,47),(366,52),(374,44),(382,30),(390,36),(398,54),(408,83),(418,86),(435,96),(451,86),(464,41),(476,21),(479,19)]
slow_green = [(0,19),(11,58),(18,24),(22,13),(34,47),(45,86),(53,89),(63,80),(72,94),(83,91),(97,86),(107,63),(116,83),(125,41),(132,52),(141,36),(154,74),(160,63),(169,0),(175,24),(181,56),(187,52),(198,47),(210,41),(221,63),(231,58),(241,21),(254,30),(262,24),(276,2),(282,28),(290,41),(299,61),(308,47),(319,66),(328,58),(344,30),(356,47),(364,52),(371,41),(381,21),(390,47),(398,69),(404,86),(418,88),(426,97),(443,94),(453,69),(461,24),(476,21),(479,6)]
stoch_levels = [74.3, 45.7, 35.7, 19.0]
stoch_colours = ["#FF3A30", "#6A6D78", "#6A6D78", "#5CB860"]

price_ticks = [102 + 0.5 * i for i in range(20)]
osc_ticks = [-80, -40, 0, 40, 80]
month_bars = [11, 33, 54, 77, 98, 119, 141, 162, 183, 205, 226, 248, 271, 292, 314, 336, 357, 379, 419, 442, 464, 485, 507]
# the June 2021 label sits under the date tag, so it is left blank
month_labels = ["Aug", "Sep", "Oct", "Nov", "Dec", "2020", "Feb", "3", "Apr", "May", "Jun", "Jul", "Aug", "Sep", "Oct", "Nov", "Dec", "2021", "Mar", "Apr", "May", "", "Jul"]
bold_labels = ["2020", "2021", "3"]

W, H = 2111, 1052
AXIS = "#50535E"
GRID = "#E1ECF2"
PINK = "#FFE7E7"
PALE_GREEN = "#E5F2E5"
PLOT_R = 2041
XLIM = (-0.083, 511.7)


def add_pane(top, bottom):
    a = fig.add_axes([0, 1 - bottom / H, PLOT_R / W, (bottom - top) / H])
    a.set_xlim(*XLIM)
    a.set_xticks(month_bars)
    a.set_xticklabels([])
    a.tick_params(axis="x", length=0)
    a.grid(True, color=GRID, lw=0.85)
    a.set_axisbelow(True)
    a.yaxis.tick_right()
    a.tick_params(axis="y", length=3.6, width=0.75, color=AXIS, labelcolor=AXIS, labelsize=8.7, pad=4.2)
    for s in a.spines.values():
        s.set_color(AXIS)
        s.set_linewidth(0.9)
    return a


def draw_runs(a, rows, colours, **kw):
    # one polyline per colour run, so alpha only doubles where two runs meet
    start = 0
    for i in range(1, len(rows) + 1):
        if i == len(rows) or rows[i][2] != rows[start][2]:
            end = min(i + 1, len(rows))
            a.plot([r[0] for r in rows[start:end]], [r[1] for r in rows[start:end]],
                   color=colours[rows[start][2]], **kw)
            start = i


fig = plt.figure(figsize=(W / 100, H / 100), dpi=100, facecolor="white")
ax = add_pane(2, 834)
ax2 = add_pane(834, 985)
ax3 = add_pane(985, 1023)

# price pane
ax.set_ylim(101.759, 112.005)
ax.set_yticks(price_ticks)
ax.set_yticklabels([f"{p:.3f}" for p in price_ticks])
ax.spines["top"].set_color("#D6DCE8")

band_style = dict(lw=0.85, zorder=1.5, solid_joinstyle="round")
for band in (band_outer, band_inner):
    ax.plot(*zip(*band), color=PINK, **band_style)
for band in (band_lower1, band_lower2):
    ax.plot(*zip(*band), color=PALE_GREEN, **band_style)
draw_runs(ax, band_mid, {"r": PINK, "g": PALE_GREEN}, **band_style)
draw_runs(ax, long_ma, {"r": "#FBDEDE", "g": "#DDEEDD"}, lw=1.1, zorder=1.5)

bars = list(range(len(body_top)))
bar_colours = []
for c, n in colour_runs:
    bar_colours += [{"r": "#FF0000", "g": "#078407"}[c]] * n
wicks = ax.vlines(bars, lows, highs, color="black", lw=0.72, zorder=3)
wicks.set_snap(True)
ax.bar(bars, [t - b for t, b in zip(body_top, body_bot)], bottom=body_bot, width=0.86,
       color=bar_colours, linewidth=0, zorder=4)

ax.axhline(last_close, color="#D8141C", lw=0.9, ls=(0, (1, 1.6)), zorder=5)
for name, price, x0, x1, gap in zip(level_names, level_prices, level_start, level_end, level_gap):
    ax.plot([x0, x1], [price, price], color="black", lw=0.95, zorder=6)
    ax.text(x0 - gap, price, name, ha="right", va="center", fontsize=8.2, color="#444444", zorder=6)
for price in magenta_prices:
    ax.plot([magenta_start, XLIM[1]], [price, price], color="#E58AF0", lw=1.4, zorder=6)
ax.plot(trend_k, trend_p, color="#FFB454", lw=0.95, zorder=6)
ax.plot(path_k, path_p, color="#3E72B8", lw=1.0, zorder=6)
ax.plot(head_k, head_p, color="#3E72B8", lw=1.0, zorder=6)

# oscillator pane
ax2.set_ylim(-87.7, 97.0)
ax2.set_yticks(osc_ticks)
ax2.set_yticklabels([f"{t:.3f}".replace("-", "\u2212") for t in osc_ticks])
ax2.plot([0, 479], [0, 0], color="#5D606B", lw=1.0, zorder=2)
draw_runs(ax2, osc, {"r": "#FF4438", "g": "#3BA13F"}, lw=3.0, alpha=0.6, zorder=3,
          solid_capstyle="butt", solid_joinstyle="round")

# stochastic pane
ax3.set_ylim(-13.3, 113.3)
ax3.set_yticks([100])
ax3.set_yticklabels(["100.000"])
for level, col in zip(stoch_levels, stoch_colours):
    ax3.axhline(level, color=col, lw=0.8, zorder=2)
ax3.plot(*zip(*slow_green), color="#4CAF50", lw=0.9, alpha=0.75, zorder=3)
ax3.plot(*zip(*slow_red), color="#F4483A", lw=0.9, alpha=0.75, zorder=3)
ax3.plot(fast_bars, fast_green, color="#4CAF50", lw=0.65, zorder=3)
ax3.plot(fast_bars, fast_red, color="#F4483A", lw=0.65, zorder=3)
ax3.set_xticklabels(month_labels)
ax3.tick_params(axis="x", length=2.6, width=0.75, color=AXIS, labelcolor=AXIS, labelsize=8.7, pad=4.5)
for lab in ax3.get_xticklabels():
    if lab.get_text() in bold_labels:
        lab.set_fontweight("bold")

# chart chrome, in pixel coordinates of the whole picture
ui = fig.add_axes([0, 0, 1, 1], zorder=10)
ui.set_xlim(0, W)
ui.set_ylim(H, 0)
ui.axis("off")
ui.patch.set_alpha(0)

legend_bits = [(9, "O", AXIS), (20, "108.901", "#FF4A4A"), (70, "H", AXIS), (81, "108.996", "#FF4A4A"),
               (132, "L", AXIS), (141, "108.718", "#FF4A4A"), (191, "C", AXIS), (201, "108.744", "#FF4A4A"),
               (252, "\u22120.157", "#FF4A4A"), (295, "(\u22120.14%)", "#FF4A4A")]
for x, s, col in legend_bits:
    ui.text(x, 20.5, s, color=col, fontsize=8.8, ha="left", va="center")


def ui_box(x0, y0, x1, y1, edge="#D6DCE8", face="white", r=3):
    ui.add_patch(FancyBboxPatch((x0, y0), x1 - x0, y1 - y0, boxstyle=f"round,pad=0,rounding_size={r}",
                                ec=edge, fc=face, lw=0.9))


def chevron(x, y):
    ui.plot([x - 3.5, x, x + 3.5], [y - 2, y + 2, y - 2], color="#131722", lw=0.9)


ui_box(10, 33, 48, 53)
chevron(20, 43)
ui.text(30, 43.5, "14", color=AXIS, fontsize=8.8, va="center")
ui_box(10, 992, 41, 1012)
chevron(20, 1002)
ui.text(30, 1002.5, "2", color="#131722", fontsize=8.8, va="center")

ui_box(1991, 9, 2011, 29)
ui.text(2001, 19, "\u2193", color=AXIS, fontsize=10, ha="center", va="center", family="DejaVu Sans")
ui_box(2015, 9, 2035, 29)
ui_box(2020, 14, 2030, 24, edge=AXIS, r=2)
ui_box(2062, 9, 2088, 30)
ui.text(2075, 19.5, "JPY", color=AXIS, fontsize=8.7, ha="center", va="center")

ui.add_patch(Rectangle((2029, 0), 80, 2, fc="#2196F3", ec="none"))
ui.plot([2108.5, 2108.5], [2, H], color="#DDE1EE", lw=1.0)
ui.plot([0, W], [1050.5, 1050.5], color="#DDE1EE", lw=1.2)
ui.plot([PLOT_R, PLOT_R], [1023, 1050], color=AXIS, lw=0.9)

# last price and crosshair tags
ui_box(2041, 259, 2104, 290, edge="#FF0000", face="#FF0000", r=2)
ui.text(2072, 267.5, "108.744", color="white", fontsize=8.8, fontweight="bold", ha="center", va="center")
ui.text(2074, 282, "14:06:01", color="#FFE5E5", fontsize=8.8, fontweight="bold", ha="center", va="center")
ui_box(2019, 622, 2100, 640, edge="#131722", face="#131722", r=2)
ui.add_patch(Circle((2029.5, 631), 6.5, fc="none", ec="white", lw=0.8))
ui.text(2029.5, 631, "+", color="white", fontsize=8.5, ha="center", va="center")
ui.text(2052, 631.5, "104.261", color="white", fontsize=8.8, fontweight="bold", va="center")

ui_box(1914, 1023, 1985, 1047, edge="#131722", face="#131722", r=2)
ui.text(1949, 1036, "07 Jun '21", color="white", fontsize=8.8, fontweight="bold", ha="center", va="center")

# watermark
ui.add_patch(Circle((1977, 1003), 22.5, fc="#D2381A", ec="none"))
ui.plot([1966, 1964, 1970, 1981, 1988, 1986, 1976, 1972, 1978, 1984],
        [1021, 1008, 998, 994, 1002, 1012, 1015, 1006, 1003, 1007],
        color="#F7B733", lw=3.6, solid_capstyle="round")
ui.add_patch(Circle((1975, 1003), 3, fc="#D2381A", ec="none"))
ui.text(2051, 998, "中金网", color="#B9B9B9", fontsize=22.5, fontweight="bold", ha="center", va="center",
        family=["Noto Sans CJK SC", "DejaVu Sans"])
ui.text(2051, 1020.5, "CNGOLD.COM.CN", color="#C4C4C4", fontsize=7.2, ha="center", va="center")
for i, ch in enumerate("中文财经新媒体"):
    ui.text(1963 + i * 20.8, 1033.5, ch, color="#9A9A9A", fontsize=8.8, ha="center", va="center",
            family=["Noto Sans CJK SC", "DejaVu Sans"])
ui.add_patch(Circle((2075, 1037), 8, fc="#EEF1F8", ec="none"))
ui.text(2075, 1037.5, "A", color="#2962FF", fontsize=8, ha="center", va="center")

fig.savefig("out.png", dpi=100)
